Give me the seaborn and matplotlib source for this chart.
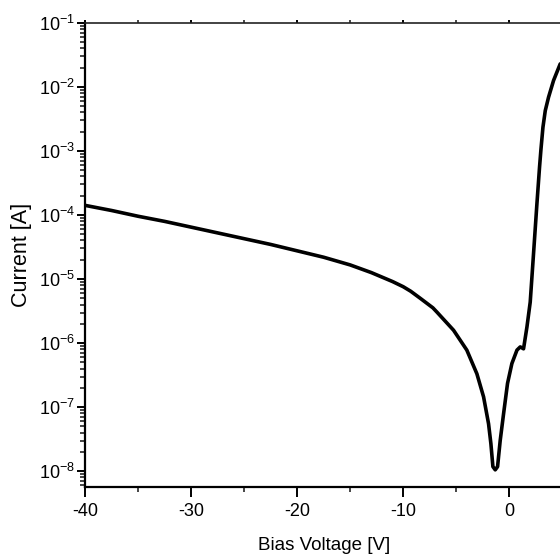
import numpy as np
import pandas as pd
import matplotlib
matplotlib.use("Agg")
import matplotlib.pyplot as plt
import matplotlib.ticker as mticker
import seaborn as sns

# I-V curve (voltage in V, log10 of current in A)
voltage = [-40, -37.5, -35, -32.5, -30, -27.5, -25, -22.5, -20, -17.5,
           -15, -13, -11, -10, -9.3, -8.4, -7.2, -6.8, -5.25, -4.0, -3.05,
           -2.42, -1.95, -1.73, -1.54, -1.32, -1.10, -0.85, -0.53, -0.16, 0.25,
           0.73, 1.04, 1.35, 1.67, 1.98, 2.29, 2.61, 2.86, 2.99, 3.18,
           3.40, 3.71, 4.18, 4.81]
log_current = [-3.85, -3.93, -4.02, -4.10, -4.19, -4.28, -4.37, -4.46, -4.56, -4.66,
               -4.78, -4.90, -5.04, -5.12, -5.19, -5.30, -5.45, -5.52, -5.80, -6.11, -6.48,
               -6.84, -7.26, -7.57, -7.93, -7.98, -7.93, -7.52, -7.10, -6.63, -6.32,
               -6.11, -6.06, -6.09, -5.75, -5.36, -4.61, -3.83, -3.25, -2.98, -2.63,
               -2.37, -2.16, -1.90, -1.64]

x_major = [-40, -30, -20, -10, 0]
y_decades = [-8, -7, -6, -5, -4, -3, -2, -1]

df = pd.DataFrame({"Bias Voltage [V]": voltage,
                   "Current [A]": 10.0 ** np.array(log_current)})

sns.set_style("ticks")
plt.rcParams["font.family"] = ["Liberation Sans", "DejaVu Sans"]
plt.rcParams["axes.unicode_minus"] = False
plt.rcParams["mathtext.default"] = "regular"
plt.rcParams["text.color"] = "black"
plt.rcParams["axes.labelcolor"] = "black"

fig = plt.figure(figsize=(5.6, 5.58), dpi=100)
# axes run just past the right edge, like the clipped original
ax = fig.add_axes([0.152, 0.127, 0.852, 0.832])

sns.lineplot(data=df, x="Bias Voltage [V]", y="Current [A]", color="black",
             linewidth=2.6, estimator=None, sort=False, ax=ax)

ax.set_yscale("log")
ax.set_xlim(-40, 5)
ax.set_ylim(10 ** -8.25, 1e-1)

ax.xaxis.set_major_locator(mticker.FixedLocator(x_major))
ax.xaxis.set_minor_locator(mticker.MultipleLocator(5))
ax.xaxis.set_major_formatter(mticker.FormatStrFormatter("%d"))
ax.yaxis.set_major_locator(mticker.FixedLocator([10.0 ** d for d in y_decades]))
ax.yaxis.set_minor_locator(mticker.LogLocator(base=10, subs=np.arange(2, 10)))
ax.yaxis.set_major_formatter(mticker.LogFormatterMathtext())
ax.yaxis.set_minor_formatter(mticker.NullFormatter())

ax.tick_params(axis="both", which="major", direction="out", width=1.4,
               labelsize=13, colors="black", labelcolor="black")
ax.tick_params(axis="x", which="major", length=7.5, pad=4)
ax.tick_params(axis="y", which="major", length=6, pad=1.5)
ax.tick_params(axis="both", which="minor", direction="out", width=1.2, length=3.5)

for side in ["left", "bottom"]:
    ax.spines[side].set_linewidth(1.6)
    ax.spines[side].set_color("black")
ax.spines["top"].set_linewidth(1.2)
ax.spines["top"].set_color("#222222")
ax.spines["right"].set_visible(False)

# tiny ticks on the top spine
ax.xaxis.set_tick_params(which="both", top=True)
for t in ax.xaxis.get_major_ticks() + ax.xaxis.get_minor_ticks():
    t.tick2line.set_markersize(2)

ax.set_xlabel("Bias Voltage [V]", fontsize=13.5, labelpad=12)
ax.set_ylabel("Current [A]", fontsize=15.5, labelpad=5)

fig.savefig("out.png", dpi=100)
